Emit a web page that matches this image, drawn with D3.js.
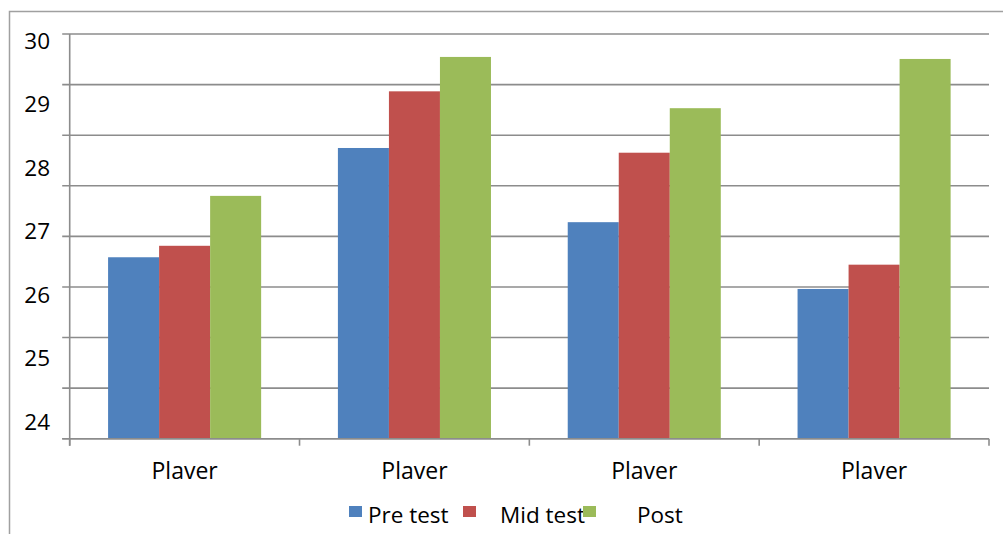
<!DOCTYPE html>
<html>
<head>
<meta charset="utf-8">
<script src="https://cdn.jsdelivr.net/npm/d3@7"></script>
<style>
  html, body { margin: 0; padding: 0; background: #fff; }
  svg { display: block; font-family: "Open Sans", "Noto Sans", sans-serif; }
</style>
</head>
<body>
<svg id="chart" width="1003" height="534"></svg>
<script>
/* Pre / mid / post test scores per player, grouped bars. */

const categories = ["Plaver", "Plaver", "Plaver", "Plaver"];
const seriesNames = ["Pre test", "Mid test", "Post"];
const preTest  = [26.69, 28.31, 27.21, 26.22];
const midTest  = [26.86, 29.15, 28.24, 26.58];
const postTest = [27.60, 29.66, 28.90, 29.63];
const yTickLabels = [30, 29, 28, 27, 26, 25, 24];
const seriesColors = ["#4f81bd", "#c0504d", "#9bbb59"];

const seriesValues = [preTest, midTest, postTest];

const svg = d3.select("#chart");

const plot = { left: 69.7, right: 989, top: 34, bottom: 438.7 };
const GRID_COUNT = 8;

/* ---------- FRAME ---------- */

svg.append("rect")
  .attr("x", 9.5).attr("y", 11.5)
  .attr("width", 1100).attr("height", 700)
  .attr("fill", "none")
  .attr("stroke", "#a0a0a0")
  .attr("stroke-width", 1.5);

/* ---------- SCALES ---------- */

const yMin = d3.min(yTickLabels);
const yMax = d3.max(yTickLabels);

const y = d3.scaleLinear()
  .domain([yMin, yMax])
  .range([plot.bottom, plot.top]);

/* the tick labels sit on their own, evenly spread, not on the grid */
const yLabel = d3.scaleLinear()
  .domain([yMin, yMax])
  .range([421.7, 40.7]);

const idx = categories.map(function (c, i) { return i; });

const x0 = d3.scaleBand()
  .domain(idx)
  .range([plot.left, plot.right])
  .paddingInner(0.334)
  .paddingOuter(0.167);

const x1 = d3.scaleBand()
  .domain(d3.range(seriesNames.length))
  .range([0, x0.bandwidth()]);

/* ---------- GRID ---------- */

const gridValues = d3.range(GRID_COUNT + 1).map(function (i) {
  return yMin + i * (yMax - yMin) / GRID_COUNT;
});

svg.append("g")
  .selectAll("line")
  .data(gridValues)
  .enter()
  .append("line")
  .attr("x1", plot.left - 7.5)
  .attr("x2", plot.right)
  .attr("y1", function (d) { return y(d); })
  .attr("y2", function (d) { return y(d); })
  .attr("stroke", "#8c8c8c")
  .attr("stroke-width", 1.6);

/* ---------- BARS ---------- */

const groups = svg.append("g")
  .selectAll("g")
  .data(idx)
  .enter()
  .append("g")
  .attr("transform", function (i) { return "translate(" + x0(i) + ",0)"; });

groups.selectAll("rect")
  .data(function (i) {
    return seriesValues.map(function (vals, s) { return { s: s, v: vals[i] }; });
  })
  .enter()
  .append("rect")
  .attr("x", function (d) { return x1(d.s); })
  .attr("width", x1.bandwidth())
  .attr("y", function (d) { return y(d.v); })
  .attr("height", function (d) { return y(yMin) - y(d.v); })
  .attr("fill", function (d) { return seriesColors[d.s]; });

/* ---------- AXES ---------- */

svg.append("line")
  .attr("x1", plot.left).attr("x2", plot.left)
  .attr("y1", plot.top).attr("y2", plot.bottom + 7)
  .attr("stroke", "#8c8c8c").attr("stroke-width", 1.6);

svg.append("line")
  .attr("x1", plot.left - 7.5).attr("x2", plot.right)
  .attr("y1", plot.bottom).attr("y2", plot.bottom)
  .attr("stroke", "#8c8c8c").attr("stroke-width", 1.6);

const step = x0.step();
const catTicks = d3.range(categories.length + 1).map(function (i) { return plot.left + i * step; });

svg.append("g")
  .selectAll("line")
  .data(catTicks)
  .enter()
  .append("line")
  .attr("x1", function (d) { return d; })
  .attr("x2", function (d) { return d; })
  .attr("y1", plot.bottom)
  .attr("y2", plot.bottom + 7)
  .attr("stroke", "#8c8c8c").attr("stroke-width", 1.6);

svg.append("g")
  .selectAll("text")
  .data(yTickLabels)
  .enter()
  .append("text")
  .attr("x", 50)
  .attr("y", function (d) { return yLabel(d); })
  .attr("dy", "0.36em")
  .attr("text-anchor", "end")
  .attr("font-size", 22.5)
  .attr("fill", "#000")
  .text(function (d) { return d; });

svg.append("g")
  .selectAll("text")
  .data(idx)
  .enter()
  .append("text")
  .attr("x", function (i) { return x0(i) + x0.bandwidth() / 2; })
  .attr("y", 479)
  .attr("text-anchor", "middle")
  .attr("font-size", 23)
  .attr("fill", "#000")
  .text(function (i) { return categories[i]; });

/* ---------- LEGEND ---------- */

const legendX = [349, 463, 583];
const legendTextX = [368, 500, 637];

const legend = svg.append("g")
  .selectAll("g")
  .data(seriesNames)
  .enter()
  .append("g");

legend.append("rect")
  .attr("x", function (d, i) { return legendX[i]; })
  .attr("y", 506)
  .attr("width", 13)
  .attr("height", 11)
  .attr("fill", function (d, i) { return seriesColors[i]; });

legend.append("text")
  .attr("x", function (d, i) { return legendTextX[i]; })
  .attr("y", 523)
  .attr("font-size", 22.5)
  .attr("fill", "#000")
  .text(function (d) { return d; });
</script>
</body>
</html>
